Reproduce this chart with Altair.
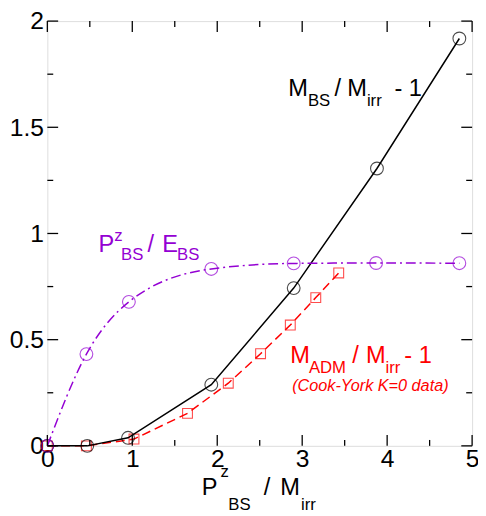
import altair as alt
import pandas as pd

# ---- data ----
bs_x = [0, 0.47, 0.95, 1.93, 2.90, 3.88, 4.85]
bs_y = [0, 0.0, 0.038, 0.288, 0.743, 1.306, 1.918]

pz_x = [0, 0.46, 0.96, 1.93, 2.90, 3.87, 4.85]
pz_y = [0, 0.432, 0.678, 0.833, 0.859, 0.861, 0.860]

adm_x = [0, 0.46, 1.02, 1.65, 2.13, 2.51, 2.86, 3.16, 3.43]
adm_y = [0, 0.0, 0.032, 0.153, 0.295, 0.434, 0.569, 0.698, 0.814]

x_major = [0, 1, 2, 3, 4, 5]
x_minor = [0.5, 1.5, 2.5, 3.5, 4.5]
y_major = [0, 0.5, 1, 1.5, 2]
y_minor = [0.25, 0.75, 1.25, 1.75]

W, H = 432, 432
FONT = "Liberation Sans"
BLACK, RED, PURPLE = "#000000", "#ff0000", "#9400d3"

xs = alt.Scale(domain=[0, 5], nice=False)
ys = alt.Scale(domain=[0, 2], nice=False)

xax = alt.Axis(values=x_major, domain=False, ticks=False, grid=False,
               labelFontSize=25, labelFont=FONT, labelColor="black",
               labelPadding=1, labelFlush=False, title=None, format="~g")
yax = alt.Axis(values=y_major, domain=False, ticks=False, grid=False,
               labelFontSize=25, labelFont=FONT, labelColor="black",
               labelPadding=4, labelFlush=False, title=None, format="~g")

bs = pd.DataFrame({"x": bs_x, "y": bs_y})
pz = pd.DataFrame({"x": pz_x, "y": pz_y})
adm = pd.DataFrame({"x": adm_x, "y": adm_y})

base_enc = dict(x=alt.X("x:Q", scale=xs, axis=xax), y=alt.Y("y:Q", scale=ys, axis=yax))

adm_line = alt.Chart(adm).mark_line(color=RED, strokeWidth=1.5, strokeDash=[9, 5]).encode(**base_enc)
adm_pts = alt.Chart(adm).mark_point(shape="square", filled=False, color=RED, size=100, strokeWidth=1.1).encode(x="x:Q", y="y:Q")

bs_line = alt.Chart(bs).mark_line(color=BLACK, strokeWidth=1.5).encode(x="x:Q", y="y:Q")
bs_pts = alt.Chart(bs).mark_point(shape="circle", filled=False, color=BLACK, size=169, strokeWidth=1.1).encode(x="x:Q", y="y:Q")

pz_line = alt.Chart(pz).mark_line(color=PURPLE, strokeWidth=1.5, strokeDash=[10, 4, 2, 4],
                                  interpolate="monotone").encode(x="x:Q", y="y:Q")
pz_pts = alt.Chart(pz).mark_point(shape="circle", filled=False, color=PURPLE, size=169, strokeWidth=1.1).encode(x="x:Q", y="y:Q")

# ---- inward ticks on all four sides ----
def xticks(vals, length):
    d = pd.DataFrame({"x": vals})
    bot = alt.Chart(d).mark_rule(color="black", strokeWidth=1.3).encode(
        x="x:Q", y=alt.value(H), y2=alt.value(H - length))
    top = alt.Chart(d).mark_rule(color="black", strokeWidth=1.3).encode(
        x="x:Q", y=alt.value(0), y2=alt.value(length))
    return bot + top

def yticks(vals, length):
    d = pd.DataFrame({"y": vals})
    lef = alt.Chart(d).mark_rule(color="black", strokeWidth=1.3).encode(
        y="y:Q", x=alt.value(0), x2=alt.value(length))
    rig = alt.Chart(d).mark_rule(color="black", strokeWidth=1.3).encode(
        y="y:Q", x=alt.value(W), x2=alt.value(W - length))
    return lef + rig

ticks = xticks(x_major, 11) + xticks(x_minor, 6) + yticks(y_major, 11) + yticks(y_minor, 6)

# ---- text annotations with sub/superscripts (page px -> plot px) ----
def piece(text, px, py, size, color, style="normal"):
    return alt.Chart(pd.DataFrame({"t": [text]})).mark_text(
        align="left", baseline="alphabetic", font=FONT, fontSize=size,
        fontStyle=style, color=color
    ).encode(text="t:N", x=alt.value(px - 48), y=alt.value(py - 17))

M, S = 24, 17
labels = [
    # M_BS / M_irr - 1
    piece("M", 293, 93, M, BLACK), piece("BS", 313, 103, S, BLACK),
    piece("/", 340, 93, M, BLACK), piece("M", 353, 93, M, BLACK),
    piece("irr", 373, 103, S, BLACK), piece("- 1", 401, 93, M, BLACK),
    # P^z_BS / E_BS
    piece("P", 100, 252, M, PURPLE), piece("z", 116, 241, S, PURPLE),
    piece("BS", 123, 260, S, PURPLE), piece("/", 150, 252, M, PURPLE),
    piece("E", 165, 252, M, PURPLE), piece("BS", 180, 260, S, PURPLE),
    # M_ADM / M_irr - 1
    piece("M", 295, 365, M, RED), piece("ADM", 314, 375, S, RED),
    piece("/", 358, 365, M, RED), piece("M", 372, 365, M, RED),
    piece("irr", 392, 375, S, RED), piece("- 1", 411, 365, M, RED),
    piece("(Cook-York K=0 data)", 297, 393, 16.5, RED, "italic"),
    # x-axis title P^z_BS / M_irr
    piece("P", 205, 499, M, BLACK), piece("z", 224, 481, S, BLACK),
    piece("BS", 232, 514, S, BLACK), piece("/", 268, 499, M, BLACK),
    piece("M", 285, 499, M, BLACK), piece("irr", 306, 514, S, BLACK),
]

chart = alt.layer(adm_line, adm_pts, bs_line, bs_pts, pz_line, pz_pts, ticks, *labels).properties(
    width=W, height=H,
    autosize=alt.AutoSizeParams(type="none"),
    padding={"left": 40, "top": 9, "right": 6, "bottom": 66},
).configure_view(stroke="black", strokeWidth=1.8).configure(background="white")

chart.save("out.html", embed_options={"renderer": "svg", "actions": False})
